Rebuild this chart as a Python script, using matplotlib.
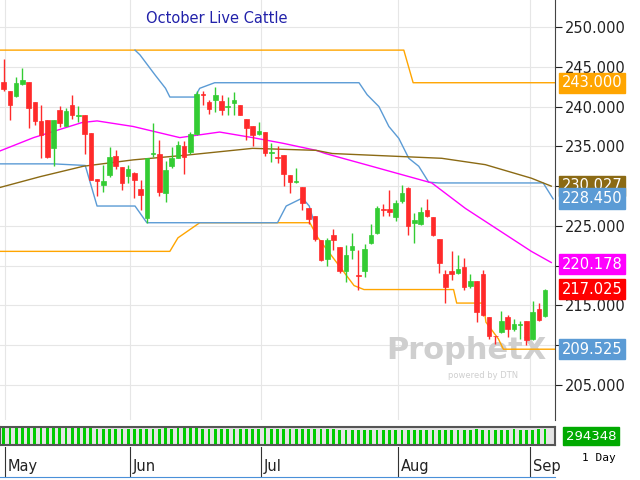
import matplotlib.pyplot as plt
import matplotlib.transforms as mtransforms

# daily OHLC (index = trading day since late April)
opens = [243.1, 242.0, 241.3, 242.9, 243.1, 240.6, 238.2, 238.3, 234.8, 239.6, 237.5, 240.2, 238.8, 239.0, 236.7,
         230.9, 230.2, 231.4, 233.8, 232.4, 231.3, 231.7, 229.7, 226.0, 234.0, 234.0, 229.1, 232.5, 233.6, 235.0,
         234.3, 236.6, 241.5, 240.6, 240.8, 240.7, 240.0, 240.5, 240.2, 238.5, 237.5, 236.5, 236.8, 234.2, 233.6,
         233.9, 231.4, 230.5, 229.9, 227.2, 226.2, 223.2, 220.8, 223.8, 222.4, 219.3, 222.0, 218.8, 219.3, 222.9,
         224.1, 227.1, 227.1, 226.1, 228.1, 229.8, 225.4, 225.3, 227.0, 226.1, 223.4, 218.9, 219.3, 219.1, 219.8,
         217.5, 218.1, 218.9, 213.5, 211.2, 211.7, 213.5, 212.1, 212.5, 213.0, 210.8, 214.5, 213.7]
highs = [246.0, 242.0, 243.7, 244.8, 243.1, 240.6, 240.2, 238.3, 238.3, 240.1, 239.8, 241.4, 240.1, 239.0, 236.7,
         230.9, 232.7, 234.9, 234.5, 232.4, 232.7, 231.8, 230.8, 233.5, 237.9, 235.8, 233.1, 234.9, 235.7, 235.7,
         236.8, 242.0, 242.0, 240.8, 242.5, 241.4, 241.2, 241.8, 240.2, 238.5, 237.5, 238.1, 236.8, 235.4, 235.0,
         233.9, 231.4, 232.3, 229.9, 227.2, 226.2, 223.2, 223.5, 224.6, 222.4, 222.6, 224.1, 222.0, 222.7, 225.2,
         227.5, 227.7, 229.5, 228.3, 230.2, 229.9, 226.6, 227.4, 228.4, 226.1, 223.4, 219.5, 221.9, 221.4, 221.0,
         218.9, 218.1, 219.5, 213.5, 211.2, 214.3, 213.8, 213.3, 213.1, 213.1, 215.5, 215.3, 217.1]
lows = [242.0, 238.3, 241.2, 242.7, 237.3, 237.7, 233.5, 233.5, 232.5, 237.4, 237.5, 238.4, 238.1, 234.1, 230.8,
        228.7, 229.3, 231.2, 232.2, 229.5, 230.4, 228.5, 227.0, 225.4, 233.7, 228.7, 228.0, 232.3, 233.5, 231.5,
        234.0, 236.4, 240.2, 239.1, 239.3, 239.0, 238.9, 238.9, 238.9, 235.8, 235.0, 236.4, 233.8, 233.0, 232.9,
        230.0, 229.2, 230.4, 227.0, 225.3, 223.1, 220.6, 220.0, 222.0, 219.1, 217.9, 220.8, 217.0, 218.6, 222.7,
        224.0, 226.2, 226.3, 225.6, 227.9, 223.9, 222.9, 225.1, 226.1, 223.7, 219.1, 215.3, 218.2, 219.0, 217.0,
        217.2, 212.9, 213.7, 210.8, 210.2, 211.5, 211.0, 211.8, 210.8, 210.0, 210.6, 213.1, 213.5]
closes = [242.2, 240.2, 243.0, 243.4, 239.8, 238.2, 236.4, 233.7, 238.3, 238.0, 239.5, 238.9, 239.0, 236.6, 230.8,
          230.7, 230.7, 233.7, 232.5, 230.4, 232.1, 230.8, 228.9, 233.5, 234.2, 229.3, 232.0, 233.5, 235.2, 233.7,
          236.5, 241.6, 241.4, 239.7, 241.4, 239.6, 240.1, 240.8, 239.0, 237.3, 236.4, 236.9, 234.2, 234.3, 233.5,
          231.5, 230.5, 230.5, 227.9, 225.9, 223.4, 220.7, 223.2, 223.2, 219.3, 221.3, 222.5, 218.7, 222.1, 223.9,
          227.2, 227.0, 226.7, 227.9, 229.2, 225.0, 225.8, 226.7, 226.3, 223.9, 220.3, 217.3, 218.9, 219.6, 217.3,
          218.1, 214.2, 213.8, 211.2, 211.1, 213.0, 212.1, 212.7, 212.5, 210.6, 214.2, 213.2, 217.0]
volume = [312, 318, 322, 320, 316, 324, 322, 326, 318, 324, 330, 328, 320, 318, 312, 300, 304, 306, 300, 305,
          308, 302, 300, 306, 300, 305, 312, 308, 314, 318, 322, 316, 310, 304, 300, 302, 306, 304, 300, 300,
          304, 308, 312, 306, 302, 300, 298, 296, 300, 302, 298, 296, 294, 296, 292, 290, 288, 290, 286, 288,
          286, 284, 282, 280, 282, 284, 282, 280, 278, 280, 282, 284, 286, 288, 290, 292, 294, 292, 290, 288,
          290, 292, 294, 292, 290, 292, 294, 294]

# indicator lines: (day index, price) points
upper_orange_x = [-1, 64.3, 65.8, 88.5]
upper_orange_y = [247.1, 247.1, 243.0, 243.0]
lower_orange_x = [-1, 26.7, 28.0, 31.5, 49.2, 50.5, 53.9, 56.3, 57.9, 72.3, 72.8, 77.1, 77.5, 79.5, 80.3, 88.5]
lower_orange_y = [221.8, 221.8, 223.5, 225.4, 225.4, 223.5, 220.0, 217.5, 217.0, 217.0, 215.3, 215.3, 212.9, 210.8, 209.5, 209.5]
upper_blue_x = [21.1, 21.9, 24.3, 26.0, 26.7, 30.7, 31.5, 33.9, 57.1, 58.4, 60.3, 61.9, 63.5, 65.1, 66.7, 68.3, 69.9, 86.7, 88.3]
upper_blue_y = [247.1, 246.5, 244.0, 242.3, 241.2, 241.2, 242.3, 243.0, 243.0, 241.5, 240.0, 237.5, 236.0, 233.5, 232.5, 230.5, 230.4, 230.4, 228.4]
lower_blue_x = [-1, 8.0, 13.1, 15.0, 21.1, 23.0, 44.0, 45.4, 48.0, 49.1, 49.9]
lower_blue_y = [232.8, 232.8, 232.6, 227.5, 227.5, 225.4, 225.4, 227.5, 228.5, 227.5, 225.4]
ma_fast_x = [-1, 4.8, 12.6, 15.0, 20.8, 28.3, 34.7, 40.0, 44.8, 50.2, 51.7, 58.2, 68.8, 74.2, 79.5, 84.8, 88.0]
ma_fast_y = [234.3, 236.1, 238.0, 238.2, 237.5, 236.1, 236.8, 236.1, 235.4, 234.5, 234.1, 232.7, 230.4, 227.2, 224.5, 221.8, 220.4]
ma_slow_x = [-1, 5.9, 12.8, 20.8, 29.4, 40.0, 50.2, 52.8, 70.4, 77.4, 84.8, 88.0]
ma_slow_y = [229.75, 231.2, 232.5, 233.3, 233.9, 234.75, 234.5, 234.1, 233.5, 232.7, 231.0, 230.0]

month_pos = [0.2, 20.3, 41.3, 63.4, 84.6]
month_names = ['May', 'Jun', 'Jul', 'Aug', 'Sep']
price_ticks = [205, 210, 215, 220, 225, 230, 235, 240, 245, 250]
# right-edge value tags
tag_values = [243.0, 230.027, 228.45, 220.178, 217.025, 209.525]
tag_colors = ['#ffa500', '#8b6a14', '#5b9bd5', '#ff00ff', '#ff0000', '#5b9bd5']

fig = plt.figure(figsize=(6.4, 4.8), dpi=100)
ax = fig.add_axes([0, 60 / 480, 555 / 640, 420 / 480])
xmin, xmax = -0.6, 88.6
ax.set_xlim(xmin, xmax)
ax.set_ylim(200.6, 253.4)

for p in price_ticks:
    ax.axhline(p, color='#e6e6e6', lw=0.8, zorder=0)
for m in month_pos:
    ax.axvline(m, color='#e6e6e6', lw=0.8, zorder=0)

ax.plot(upper_orange_x, upper_orange_y, color='#ffa500', lw=1)
ax.plot(lower_orange_x, lower_orange_y, color='#ffa500', lw=1)
ax.plot(upper_blue_x, upper_blue_y, color='#5b9bd5', lw=1)
ax.plot(lower_blue_x, lower_blue_y, color='#5b9bd5', lw=1)
ax.plot(ma_fast_x, ma_fast_y, color='#ff00ff', lw=1)
ax.plot(ma_slow_x, ma_slow_y, color='#8b6a14', lw=1)

for i, (o, h, l, c) in enumerate(zip(opens, highs, lows, closes)):
    col = '#33cc33' if c >= o else '#ff2a2a'
    ax.vlines(i, l, h, color=col, lw=1, zorder=3)
    lo, hi = min(o, c), max(o, c)
    ax.bar(i, max(hi - lo, 0.12), bottom=lo, width=0.72, color=col, edgecolor=col, lw=0.5, zorder=4)

ax.text(0.39, 0.955, 'October Live Cattle', transform=ax.transAxes, color='#2222aa', fontsize=10.5,
        va='center', ha='center')
ax.text(0.84, 0.165, 'ProphetX', transform=ax.transAxes, color='#cfcfcf', fontsize=22,
        fontweight='bold', ha='center', va='center', zorder=1)
ax.text(0.87, 0.105, 'powered by DTN', transform=ax.transAxes, color='#cfcfcf', fontsize=6,
        ha='center', va='center', zorder=1)

ax.set_xticks([])
ax.yaxis.tick_right()
ax.set_yticks(price_ticks)
ax.set_yticklabels([f'{p:.3f}' for p in price_ticks], fontsize=10.5)
ax.tick_params(axis='y', length=5, pad=2, colors='#222222')
for s in ['top', 'left', 'bottom']:
    ax.spines[s].set_visible(False)
ax.spines['right'].set_color('#444444')

trans = mtransforms.blended_transform_factory(ax.transAxes, ax.transData)
for v, c in zip(tag_values, tag_colors):
    ax.text(1.012, v, f'{v:.3f}', transform=trans, fontsize=10.5, color='white', va='center', ha='left',
            bbox=dict(boxstyle='square,pad=0.18', fc=c, ec=c), zorder=6)

# volume strip
vax = fig.add_axes([0, 35 / 480, 555 / 640, 18 / 480])
vax.set_facecolor('#e4e4e4')
vax.bar(range(len(volume)), volume, width=0.45, color='#00cc00')
vax.set_xlim(xmin, xmax)
vax.set_ylim(0, 340)
vax.set_xticks([])
vax.set_yticks([])
for s in vax.spines.values():
    s.set_color('#555555')
    s.set_linewidth(1.5)
vax.text(1.02, 0.5, '294348', transform=vax.transAxes, fontsize=9.5, color='white', va='center', ha='left',
         bbox=dict(boxstyle='square,pad=0.2', fc='#00aa00', ec='#00aa00'))

# date strip
dax = fig.add_axes([0, 3 / 480, 555 / 640, 30 / 480])
dax.set_xlim(xmin, xmax)
dax.set_ylim(0, 1)
dax.set_yticks([])
dax.set_xticks([])
for m, name in zip(month_pos, month_names):
    dax.axvline(m, color='#333333', lw=0.8)
    dax.text(m + 0.4, 0.35, name, fontsize=10.5, va='center', ha='left', color='#222222')
for s in ['top', 'left', 'right']:
    dax.spines[s].set_visible(False)
dax.spines['bottom'].set_color('#4a90d9')
fig.text(0.935, 0.045, '1 Day', fontsize=8, family='DejaVu Sans Mono', ha='center', va='center')

fig.savefig('out.png', dpi=100)
